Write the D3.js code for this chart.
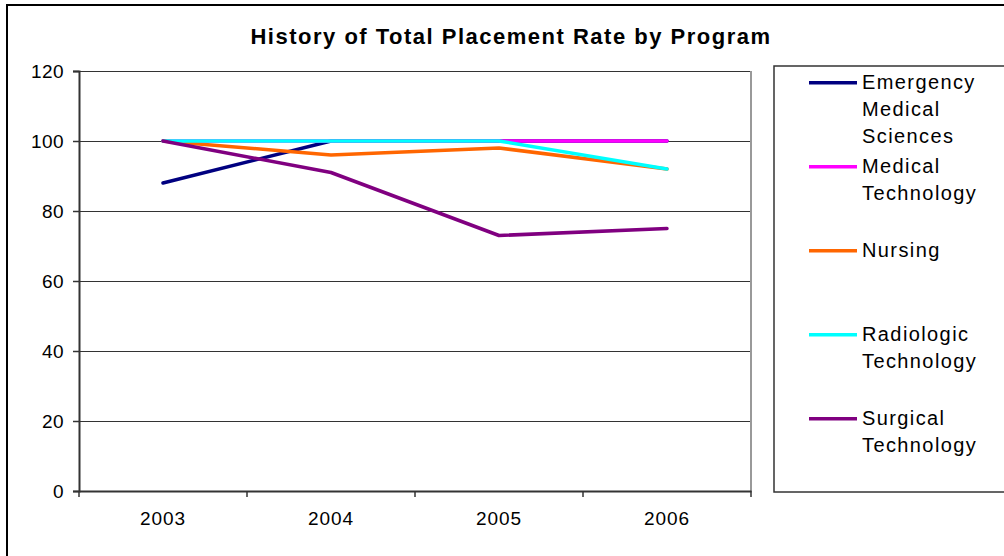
<!DOCTYPE html>
<html>
<head>
<meta charset="utf-8">
<script src="https://cdn.jsdelivr.net/npm/d3@7/dist/d3.min.js"></script>
<style>
  html, body { margin: 0; padding: 0; background: #fff; }
  svg { display: block; }
  text { font-family: "Liberation Sans", Arial, sans-serif; fill: #000; }
</style>
</head>
<body>
<svg id="chart" width="1004" height="556"></svg>
<script>
// ---- Data ----
const title = "History of Total Placement Rate by Program";
const years = ["2003", "2004", "2005", "2006"];
const seriesNames = ["Emergency Medical Sciences", "Medical Technology", "Nursing", "Radiologic Technology", "Surgical Technology"];
const legendLines = [["Emergency", "Medical", "Sciences"], ["Medical", "Technology"], ["Nursing"], ["Radiologic", "Technology"], ["Surgical", "Technology"]];
const emergencyMedical = [88, 100, 100, 100];
const medicalTechnology = [100, 100, 100, 100];
const nursing = [100, 96, 98, 92];
const radiologicTechnology = [100, 100, 100, 92];
const surgicalTechnology = [100, 91, 73, 75];
const yTicks = [0, 20, 40, 60, 80, 100, 120];
const colors = ["#000080", "#FF00FF", "#FF6600", "#00FFFF", "#800080"];

const seriesValues = [emergencyMedical, medicalTechnology, nursing, radiologicTechnology, surgicalTechnology];
const series = seriesNames.map((n, i) => ({ name: n, values: seriesValues[i], color: colors[i], lines: legendLines[i] }));

// ---- Layout ----
const svg = d3.select("#chart");
const plot = { left: 79, right: 751, top: 71, bottom: 491 };

// outer chart border (extends beyond the visible frame)
svg.append("rect").attr("x", 7).attr("y", 5).attr("width", 1010).attr("height", 570)
  .attr("fill", "#fff").attr("stroke", "#000").attr("stroke-width", 2);

const x = d3.scaleBand().domain(years).range([plot.left, plot.right]).paddingInner(0).paddingOuter(0);
const y = d3.scaleLinear().domain([0, 120]).range([plot.bottom, plot.top]);

// gridlines
svg.append("g").selectAll("line").data(yTicks.filter(d => d > 0)).join("line")
  .attr("x1", plot.left).attr("x2", plot.right)
  .attr("y1", d => Math.round(y(d)) + 0.5).attr("y2", d => Math.round(y(d)) + 0.5)
  .attr("stroke", "#333").attr("stroke-width", 1);

// plot area right border
svg.append("line").attr("x1", plot.right).attr("x2", plot.right).attr("y1", plot.top).attr("y2", plot.bottom)
  .attr("stroke", "#999").attr("stroke-width", 2);

// y axis
const yAxis = d3.axisLeft(y).tickValues(yTicks).tickSize(6).tickPadding(9).tickFormat(d3.format("d"));
const gy = svg.append("g").attr("transform", `translate(${plot.left},0)`).call(yAxis);
gy.select(".domain").attr("stroke", "#333").attr("stroke-width", 2);
gy.selectAll(".tick line").attr("stroke", "#333").attr("stroke-width", 1.5);
gy.selectAll(".tick text").attr("font-size", 19).attr("font-family", "Liberation Sans, Arial, sans-serif")
  .attr("fill", "#000").style("letter-spacing", "0.4px").attr("dy", "0.34em");

// x axis
const xAxis = d3.axisBottom(x).tickSize(0).tickPadding(21);
const gx = svg.append("g").attr("transform", `translate(0,${plot.bottom})`).call(xAxis);
gx.select(".domain").attr("stroke", "#333").attr("stroke-width", 2);
gx.selectAll(".tick text").attr("font-size", 19).attr("font-family", "Liberation Sans, Arial, sans-serif")
  .attr("fill", "#000").style("letter-spacing", "0.9px");
// category boundary tick marks
const bounds = years.map(d => x(d)).concat([x(years[years.length - 1]) + x.bandwidth()]);
gx.append("g").selectAll("line").data(bounds).join("line")
  .attr("x1", d => d).attr("x2", d => d).attr("y1", 0).attr("y2", 6)
  .attr("stroke", "#333").attr("stroke-width", 1.5);

// lines
const line = d3.line().x((d, i) => x(years[i]) + x.bandwidth() / 2).y(d => y(d));
svg.append("g").selectAll("path").data(series).join("path")
  .attr("d", d => line(d.values))
  .attr("fill", "none").attr("stroke", d => d.color).attr("stroke-width", 3.5)
  .attr("stroke-linejoin", "round").attr("stroke-linecap", "round");

// title
svg.append("text").attr("x", 511).attr("y", 44).attr("text-anchor", "middle")
  .attr("font-size", 22).attr("font-weight", "bold").style("letter-spacing", "1.5px")
  .text(title);

// legend
svg.append("rect").attr("x", 774).attr("y", 66).attr("width", 260).attr("height", 426)
  .attr("fill", "#fff").attr("stroke", "#333").attr("stroke-width", 1.5);
const legend = svg.append("g");
const entry = legend.selectAll("g").data(series).join("g")
  .attr("transform", (d, i) => `translate(0,${82.7 + i * 84})`);
entry.append("line").attr("x1", 809).attr("x2", 857).attr("y1", 0).attr("y2", 0)
  .attr("stroke", d => d.color).attr("stroke-width", 3.5);
entry.each(function (d) {
  d3.select(this).selectAll("text").data(d.lines).join("text")
    .attr("x", 862).attr("y", (t, k) => 6.5 + k * 26.8)
    .attr("font-size", 20).style("letter-spacing", "1.4px")
    .text(t => t);
});
</script>
</body>
</html>
